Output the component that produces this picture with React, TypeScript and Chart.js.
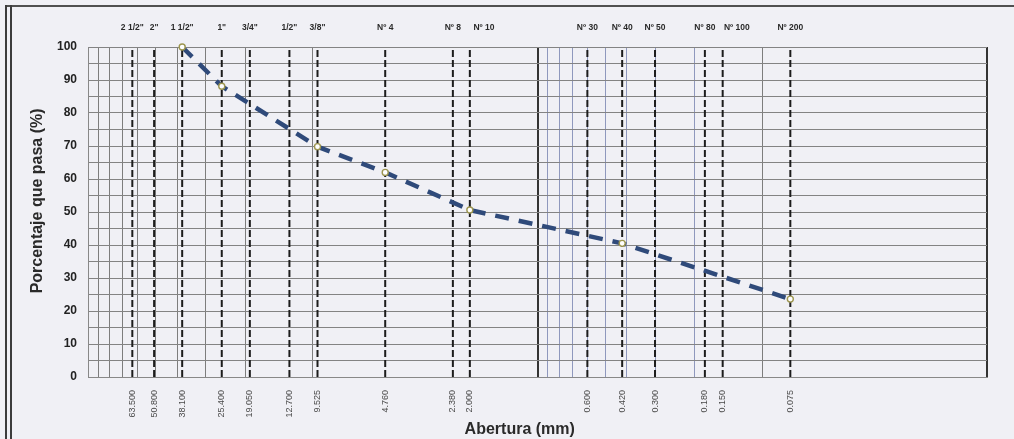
import React, { useEffect, useRef } from "react";
import { Chart, registerables } from "chart.js";

Chart.register(...registerables);

// Sieve openings (mm) with their names and printed labels
const sieveSizes = [63.5, 50.8, 38.1, 25.4, 19.05, 12.7, 9.525, 4.76, 2.38, 2.0, 0.6, 0.42, 0.3, 0.18, 0.15, 0.075];
const sieveNames = ['2 1/2"', '2"', '1 1/2"', '1"', '3/4"', '1/2"', '3/8"', "Nº 4", "Nº 8", "Nº 10", "Nº 30", "Nº 40", "Nº 50", "Nº 80", "Nº 100", "Nº 200"];
const sizeLabels = ["63.500", "50.800", "38.100", "25.400", "19.050", "12.700", "9.525", "4.760", "2.380", "2.000", "0.600", "0.420", "0.300", "0.180", "0.150", "0.075"];

// Grading curve
const curveSizes = [38.1, 25.4, 9.525, 4.76, 2.0, 0.42, 0.075];
const curvePassing = [100, 88.1, 69.8, 62.0, 50.6, 40.5, 23.6];

// Log grid lines
const majorGrid = [100, 10, 1, 0.1, 0.01];
const minorGridCoarse = [90, 80, 70, 60, 50, 40, 30, 20];
const minorGridFine = [0.9, 0.8, 0.7, 0.6, 0.5, 0.4, 0.3, 0.2];

const FONT = "'Liberation Sans', Arial, Helvetica, sans-serif";

export default function App() {
  const ref = useRef<HTMLCanvasElement | null>(null);

  useEffect(() => {
    if (!ref.current) return;
    const gridVals = [...majorGrid, ...minorGridCoarse, ...minorGridFine].sort((a, b) => a - b);
    const shifted = new Set(["Nº 10", "Nº 100"]);
    const pad = " ".repeat(12);

    const sieveDatasets = sieveSizes.map((s) => ({
      type: "line" as const,
      data: [
        { x: s, y: 0 },
        { x: s, y: 100 },
      ],
      borderColor: "#1c1c1c",
      borderWidth: 2,
      borderDash: [7, 3],
      pointRadius: 0,
      xAxisID: "x",
      yAxisID: "y",
      order: 2,
    }));

    const curveDataset = {
      type: "line" as const,
      data: curveSizes.map((x, i) => ({ x, y: curvePassing[i] })),
      borderColor: "#2f4a7a",
      borderWidth: 4.5,
      borderDash: [14, 10],
      pointRadius: 3,
      pointBackgroundColor: "#ffffff",
      pointBorderColor: "#9d9650",
      pointBorderWidth: 1.4,
      tension: 0,
      clip: false as any,
      xAxisID: "x",
      yAxisID: "y",
      order: 1,
    };

    const chart = new Chart(ref.current, {
      type: "line",
      data: { datasets: [...sieveDatasets, curveDataset] as any },
      options: {
        animation: false,
        responsive: false,
        events: [],
        layout: { padding: { left: 0, right: 27, top: 0, bottom: 0 } },
        plugins: { legend: { display: false }, tooltip: { enabled: false } },
        scales: {
          x: {
            type: "logarithmic",
            position: "bottom",
            weight: 0,
            reverse: true,
            min: 0.01,
            max: 100,
            afterBuildTicks: (s: any) => {
              s.ticks = gridVals.map((v) => ({ value: v }));
            },
            afterFit: (s: any) => {
              s.height = 0;
            },
            ticks: { display: false, autoSkip: false },
            grid: {
              drawTicks: false,
              color: (ctx: any) => {
                const v = ctx.tick ? ctx.tick.value : 0;
                if (Math.abs(v - 1) < 1e-9 || Math.abs(v - 0.01) < 1e-9) return "#333333";
                if (v < 1 && v > 0.1 + 1e-9) return "#8f98bd";
                return "#7d7d7d";
              },
              lineWidth: (ctx: any) => {
                const v = ctx.tick ? ctx.tick.value : 0;
                if (Math.abs(v - 1) < 1e-9 || Math.abs(v - 0.01) < 1e-9) return 2;
                return 1;
              },
            },
            border: { display: true, color: "#888888", width: 1 },
          },
          xTop: {
            type: "logarithmic",
            position: "top",
            weight: 1,
            reverse: true,
            min: 0.01,
            max: 100,
            afterBuildTicks: (s: any) => {
              s.ticks = sieveSizes.map((v) => ({ value: v }));
            },
            afterFit: (s: any) => {
              s.height = 47;
            },
            grid: { display: false, drawTicks: false },
            border: { display: false },
            ticks: {
              autoSkip: false,
              maxRotation: 0,
              minRotation: 0,
              padding: 14,
              color: "#2a2a2a",
              font: { family: FONT, size: 8.5, weight: "bold" },
              callback: (_v: any, i: number) => {
                const n = sieveNames[i];
                return shifted.has(n) ? pad + n : n;
              },
            },
          },
          xBottom: {
            type: "logarithmic",
            position: "bottom",
            weight: 1,
            reverse: true,
            min: 0.01,
            max: 100,
            afterBuildTicks: (s: any) => {
              s.ticks = sieveSizes.map((v) => ({ value: v }));
            },
            afterFit: (s: any) => {
              s.height = 62;
            },
            grid: { display: false, drawTicks: false },
            border: { display: false },
            ticks: {
              autoSkip: false,
              maxRotation: 90,
              minRotation: 90,
              padding: 13,
              color: "#4a4a4a",
              font: { family: FONT, size: 9 },
              callback: (_v: any, i: number) => sizeLabels[i],
            },
            title: {
              display: true,
              text: "Abertura (mm)" + " ".repeat(8),
              color: "#2a2a2a",
              font: { family: FONT, size: 16, weight: "bold" },
              padding: { top: 0, bottom: 0 },
            },
          },
          y: {
            type: "linear",
            position: "left",
            min: 0,
            max: 100,
            afterFit: (s: any) => {
              s.width = 88;
            },
            ticks: {
              stepSize: 5,
              autoSkip: false,
              padding: 11,
              color: "#222222",
              font: { family: FONT, size: 12, weight: "bold" },
              callback: (v: any) => (Number(v) % 10 === 0 ? String(v) : ""),
            },
            grid: { drawTicks: false, color: "#838383", lineWidth: 1 },
            border: { display: true, color: "#888888", width: 1 },
            title: {
              display: true,
              text: " ".repeat(5) + "Porcentaje que pasa (%)",
              color: "#2a2a2a",
              font: { family: FONT, size: 16, weight: "bold" },
              padding: { top: 28, bottom: 0 },
            },
          },
        },
      } as any,
    });
    return () => chart.destroy();
  }, []);

  return (
    <div
      style={{
        position: "fixed",
        left: 0,
        top: 0,
        width: 1014,
        height: 439,
        background: "#f0f0f5",
        overflow: "hidden",
      }}
    >
      <canvas ref={ref} width={1014} height={439} style={{ display: "block", width: 1014, height: 439 }} />
      <div
        style={{
          position: "absolute",
          left: 5,
          top: 5,
          right: 0,
          height: 0,
          borderTop: "2px solid #505050",
          pointerEvents: "none",
        }}
      />
      <div
        style={{
          position: "absolute",
          left: 5,
          top: 5,
          bottom: 0,
          width: 0,
          borderLeft: "7px double #3c3c3c",
          pointerEvents: "none",
        }}
      />
    </div>
  );
}
